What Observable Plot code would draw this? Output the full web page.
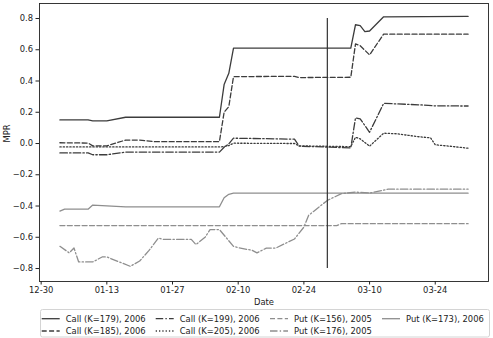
<!DOCTYPE html>
<html>
<head>
<meta charset="utf-8">
<script src="https://cdn.jsdelivr.net/npm/d3@7"></script>
<script src="https://cdn.jsdelivr.net/npm/@observablehq/plot@0.6"></script>
<style>
  html, body { margin: 0; padding: 0; background: white; }
  #chart { width: 493px; height: 338px; position: relative; font-family: "DejaVu Sans", sans-serif; }
  #chart svg { display: block; }
</style>
</head>
<body>
<div id="chart"></div>
<script>
// Market price of risk (MPR) per option contract, Jan–Mar 2006
const call179Dates = ["2006-01-03","2006-01-09","2006-01-10","2006-01-13","2006-01-17","2006-02-06","2006-02-07","2006-02-08","2006-02-09","2006-03-06","2006-03-07","2006-03-08","2006-03-09","2006-03-10","2006-03-13","2006-03-31"];
const call179Values = [0.151, 0.151, 0.145, 0.145, 0.168, 0.168, 0.377, 0.449, 0.61, 0.61, 0.76, 0.755, 0.716, 0.72, 0.811, 0.813];

const call185Dates = ["2006-01-03","2006-01-09","2006-01-10","2006-01-13","2006-01-17","2006-01-20","2006-01-23","2006-02-06","2006-02-07","2006-02-08","2006-02-09","2006-02-22","2006-02-23","2006-03-06","2006-03-07","2006-03-08","2006-03-10","2006-03-13","2006-03-31"];
const call185Values = [0.005, 0.003, -0.015, -0.015, 0.022, 0.022, 0.012, 0.012, 0.2, 0.236, 0.428, 0.43, 0.422, 0.424, 0.637, 0.626, 0.567, 0.70, 0.70];

const call199Dates = ["2006-01-03","2006-01-09","2006-01-10","2006-01-13","2006-01-17","2006-02-06","2006-02-07","2006-02-08","2006-02-09","2006-02-22","2006-02-23","2006-03-06","2006-03-07","2006-03-08","2006-03-10","2006-03-13","2006-03-21","2006-03-24","2006-03-31"];
const call199Values = [-0.06, -0.06, -0.072, -0.072, -0.055, -0.055, -0.024, -0.002, 0.034, 0.028, -0.017, -0.028, 0.164, 0.158, 0.072, 0.257, 0.247, 0.241, 0.24];

const call205Dates = ["2006-01-03","2006-02-06","2006-02-07","2006-02-08","2006-02-09","2006-02-22","2006-02-23","2006-03-06","2006-03-07","2006-03-08","2006-03-10","2006-03-13","2006-03-16","2006-03-20","2006-03-23","2006-03-24","2006-03-27","2006-03-31"];
const call205Values = [-0.022, -0.022, -0.02, -0.013, 0.002, 0.0, -0.015, -0.02, 0.04, 0.03, -0.017, 0.066, 0.062, 0.045, 0.036, -0.008, -0.017, -0.03];

const put156Dates = ["2006-01-03","2006-03-03","2006-03-04","2006-03-31"];
const put156Values = [-0.525, -0.525, -0.513, -0.513];

const put173Dates = ["2006-01-03","2006-01-04","2006-01-09","2006-01-10","2006-01-17","2006-02-06","2006-02-07","2006-02-08","2006-02-09","2006-03-31"];
const put173Values = [-0.432, -0.42, -0.42, -0.394, -0.405, -0.405, -0.347, -0.325, -0.318, -0.318];

const put176Dates = ["2006-01-03","2006-01-05","2006-01-06","2006-01-07","2006-01-10","2006-01-12","2006-01-13","2006-01-18","2006-01-20","2006-01-22","2006-01-24","2006-01-25","2006-01-31","2006-02-01","2006-02-03","2006-02-04","2006-02-06","2006-02-09","2006-02-10","2006-02-13","2006-02-14","2006-02-16","2006-02-18","2006-02-22","2006-02-24","2006-02-25","2006-03-01","2006-03-04","2006-03-07","2006-03-10","2006-03-14","2006-03-31"];
const put176Values = [-0.658, -0.70, -0.669, -0.758, -0.758, -0.726, -0.726, -0.786, -0.752, -0.684, -0.605, -0.613, -0.613, -0.647, -0.598, -0.551, -0.551, -0.658, -0.666, -0.684, -0.70, -0.669, -0.669, -0.611, -0.535, -0.46, -0.364, -0.321, -0.311, -0.317, -0.292, -0.292];

// Vertical marker date and its extent
const markerDate = "2006-03-01";
const markerRange = [-0.8, 0.8];

const xTicks = ["2005-12-30","2006-01-13","2006-01-27","2006-02-10","2006-02-24","2006-03-10","2006-03-24"];
const yTicks = [-0.8, -0.6, -0.4, -0.2, 0.0, 0.2, 0.4, 0.6, 0.8];

const callColor = "#3c3c3c";
const putColor = "#8e8e8e";
const dashed = "5,2.4";
const dashDot = "7.5,2.2,1.4,2.2";
const dotted = "1.3,2";

// Series in legend order (column-major, four columns)
const series = [
  {label: "Call (K=179), 2006", dates: call179Dates, values: call179Values, stroke: callColor, dash: null},
  {label: "Call (K=185), 2006", dates: call185Dates, values: call185Values, stroke: callColor, dash: dashed},
  {label: "Call (K=199), 2006", dates: call199Dates, values: call199Values, stroke: callColor, dash: dashDot},
  {label: "Call (K=205), 2006", dates: call205Dates, values: call205Values, stroke: callColor, dash: dotted},
  {label: "Put (K=156), 2005", dates: put156Dates, values: put156Values, stroke: putColor, dash: dashed},
  {label: "Put (K=176), 2005", dates: put176Dates, values: put176Values, stroke: putColor, dash: dashDot},
  {label: "Put (K=173), 2006", dates: put173Dates, values: put173Values, stroke: putColor, dash: null}
];

const day = 86400000;
const xStart = new Date("2005-12-30").getTime();
const xDomain = [new Date(xStart - 0.35 * day), new Date(xStart + 95.35 * day)];
const fmtY = d => d.toFixed(1).replace("-", "\u2212");

const lineMarks = series.map(s => {
  const rows = s.dates.map((d, i) => ({date: new Date(d), mpr: s.values[i]}));
  return Plot.line(rows, {
    x: "date", y: "mpr", stroke: s.stroke, strokeWidth: 1.3,
    strokeDasharray: s.dash ?? undefined, strokeLinejoin: "round"
  });
});

const plot = Plot.plot({
  width: 493,
  height: 308,
  marginTop: 3,
  marginRight: 5,
  marginBottom: 27,
  marginLeft: 39,
  style: {fontFamily: "DejaVu Sans", fontSize: "8.4px", color: "#222", background: "white"},
  x: {type: "utc", domain: xDomain},
  y: {domain: [-0.883, 0.896]},
  marks: [
    ...lineMarks,
    Plot.ruleX([new Date(markerDate)], {y1: markerRange[0], y2: markerRange[1], stroke: "#333", strokeWidth: 1.2}),
    Plot.frame({stroke: "#222", strokeWidth: 0.9}),
    Plot.axisX({ticks: xTicks.map(d => new Date(d)), tickFormat: d3.utcFormat("%m-%d"), tickSize: 3.5, tickPadding: 2, label: null}),
    Plot.axisY({ticks: yTicks, tickFormat: fmtY, tickSize: 3.5, tickPadding: 3, label: null}),
    Plot.text(["Date"], {frameAnchor: "bottom", dy: 21, lineAnchor: "middle", fill: "#222"}),
    Plot.text(["MPR"], {frameAnchor: "left", dx: -32, rotate: -90, lineAnchor: "middle", fill: "#222"})
  ]
});

const chart = document.getElementById("chart");
chart.appendChild(plot);

// Legend below the plot: four columns, two rows
const legend = d3.select(chart).append("svg")
  .attr("width", 493).attr("height", 30)
  .style("font-family", "DejaVu Sans").style("font-size", "8.4px");
legend.append("rect")
  .attr("x", 40.5).attr("y", 1.5).attr("width", 449).attr("height", 27.5)
  .attr("rx", 2).attr("fill", "white").attr("stroke", "#d4d4d4");
const colX = [41.7, 155.7, 270, 382];
const rowY = [10.7, 23];
series.forEach((s, i) => {
  const col = Math.floor(i / 2), row = i % 2;
  const x0 = colX[col], y0 = rowY[row];
  legend.append("line")
    .attr("x1", x0).attr("x2", x0 + 18).attr("y1", y0).attr("y2", y0)
    .attr("stroke", s.stroke).attr("stroke-width", 1.3)
    .attr("stroke-dasharray", s.dash);
  legend.append("text")
    .attr("x", x0 + 24).attr("y", y0).attr("dy", "0.35em")
    .attr("fill", "#222").text(s.label);
});
</script>
</body>
</html>
